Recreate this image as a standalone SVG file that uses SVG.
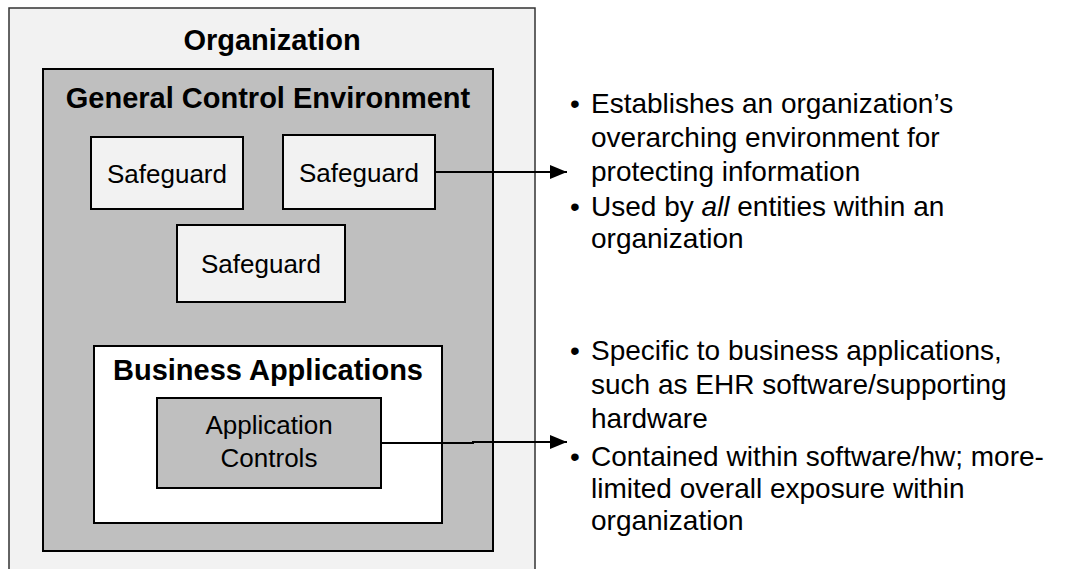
<svg xmlns="http://www.w3.org/2000/svg" width="1076" height="569" viewBox="0 0 1076 569">
<style>
  .box { stroke: #000; stroke-width: 2; }
  .light { fill: #f2f2f2; }
  .gray { fill: #bfbfbf; }
  .white { fill: #ffffff; }
  .t { font-family: "Liberation Sans", Arial, sans-serif; font-size: 26px; fill: #000; }
  .n { font-family: "Liberation Sans", Arial, sans-serif; font-size: 28px; fill: #000; }
  .h { font-family: "Liberation Sans", Arial, sans-serif; font-size: 29px; font-weight: bold; fill: #000; }
  .c { text-anchor: middle; }
  .conn { fill: none; stroke: #000; stroke-width: 2; }
</style>
<defs>
  <marker id="arrow" markerWidth="17" markerHeight="14" refX="17" refY="7" orient="auto" markerUnits="userSpaceOnUse" viewBox="0 0 17 14">
    <path d="M0,0 L17,7 L0,14 z" fill="#000"/>
  </marker>
</defs>
<rect width="1076" height="569" fill="#ffffff"/>
<g id="organization">
  <rect x="9" y="8" width="526" height="580" class="light" stroke="#333" stroke-width="1.5"/>
  <text x="272" y="50" class="h c">Organization</text>
</g>
<g id="general-control-environment">
  <rect x="43" y="69" width="450" height="482" class="box gray"/>
  <text x="268" y="108" class="h c">General Control Environment</text>
</g>
<g id="safeguard-1">
  <rect x="91" y="137" width="152" height="72" class="box light"/>
  <text x="167" y="183" class="t c">Safeguard</text>
</g>
<g id="safeguard-2">
  <rect x="283" y="135" width="152" height="74" class="box light"/>
  <text x="359" y="182" class="t c">Safeguard</text>
</g>
<g id="safeguard-3">
  <rect x="177" y="225" width="168" height="77" class="box light"/>
  <text x="261" y="273" class="t c">Safeguard</text>
</g>
<g id="business-applications">
  <rect x="94" y="346" width="348" height="177" class="box white"/>
  <text x="268" y="380" class="h c">Business Applications</text>
</g>
<g id="application-controls">
  <rect x="157" y="398" width="224" height="90" class="box gray"/>
  <text x="269" y="434" class="t c">Application</text>
  <text x="269" y="467" class="t c">Controls</text>
</g>
<g id="connectors">
  <path d="M435,172 H567" class="conn" marker-end="url(#arrow)"/>
  <path d="M381,443 H473 V442 H567" class="conn" marker-end="url(#arrow)"/>
</g>
<g id="general-notes">
  <text x="570" y="113" class="n">•</text>
  <text x="591" y="113" class="n">Establishes an organization’s</text>
  <text x="591" y="147" class="n">overarching environment for</text>
  <text x="591" y="181" class="n">protecting information</text>
  <text x="570" y="216" class="n">•</text>
  <text x="591" y="216" class="n">Used by <tspan font-style="italic">all</tspan> entities within an</text>
  <text x="591" y="248" class="n">organization</text>
</g>
<g id="application-notes">
  <text x="570" y="360" class="n">•</text>
  <text x="591" y="360" class="n">Specific to business applications,</text>
  <text x="591" y="394" class="n">such as EHR software/supporting</text>
  <text x="591" y="428" class="n">hardware</text>
  <text x="570" y="466" class="n">•</text>
  <text x="591" y="466" class="n">Contained within software/hw; more-</text>
  <text x="591" y="498" class="n">limited overall exposure within</text>
  <text x="591" y="530" class="n">organization</text>
</g>
</svg>
